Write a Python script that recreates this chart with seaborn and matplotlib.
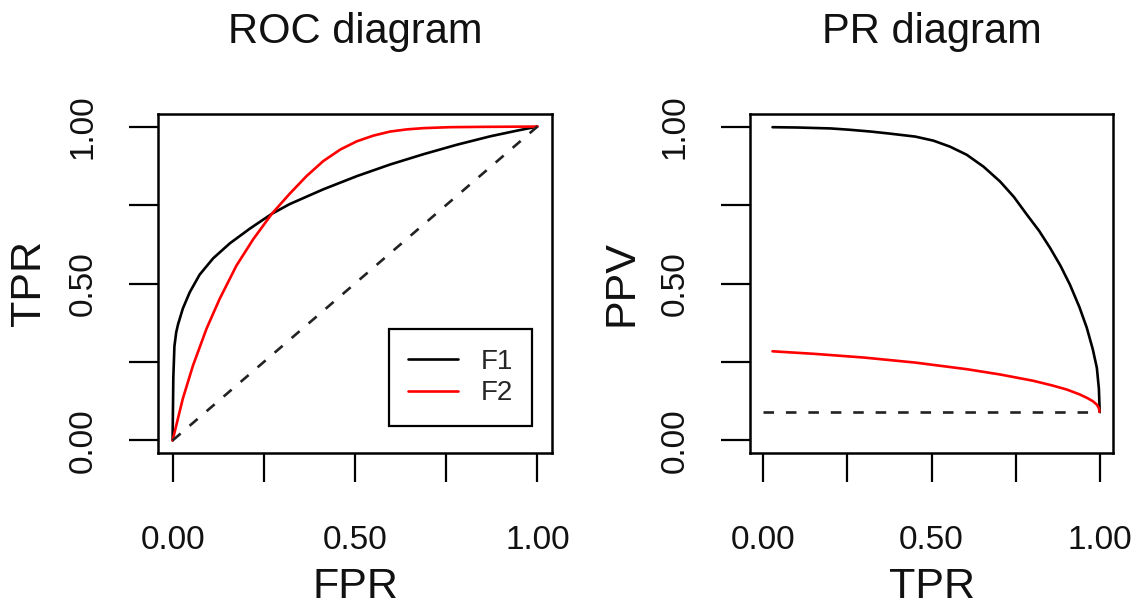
import numpy as np
import pandas as pd
import matplotlib
matplotlib.use("Agg")
import matplotlib.pyplot as plt
import seaborn as sns

# ROC curves (FPR, TPR)
f1_fpr = [0.000, 0.001, 0.002, 0.005, 0.010, 0.015, 0.028, 0.047, 0.074, 0.111,
          0.157, 0.212, 0.272, 0.321, 0.413, 0.505, 0.596, 0.688, 0.779, 0.871,
          0.940, 1.000]
f1_tpr = [0.000, 0.100, 0.200, 0.300, 0.345, 0.370, 0.420, 0.472, 0.528, 0.580,
          0.628, 0.675, 0.722, 0.753, 0.800, 0.842, 0.879, 0.912, 0.942, 0.969,
          0.986, 1.000]
f2_fpr = [0.000, 0.028, 0.056, 0.093, 0.129, 0.175, 0.221, 0.272, 0.321, 0.367,
          0.413, 0.460, 0.505, 0.550, 0.596, 0.642, 0.688, 0.760, 0.846, 1.000]
f2_tpr = [0.000, 0.133, 0.239, 0.356, 0.451, 0.557, 0.641, 0.722, 0.786, 0.842,
          0.890, 0.927, 0.953, 0.971, 0.984, 0.991, 0.995, 0.998, 0.999, 1.000]

# Precision-recall curves (TPR, PPV)
f1_rec = [0.027, 0.100, 0.200, 0.254, 0.320, 0.372, 0.452, 0.506, 0.555, 0.605,
          0.655, 0.704, 0.745, 0.784, 0.820, 0.853, 0.884, 0.912, 0.940, 0.962,
          0.980, 0.992, 0.998, 1.000, 1.000]
f1_ppv = [0.998, 0.997, 0.994, 0.990, 0.984, 0.978, 0.968, 0.955, 0.936, 0.910,
          0.872, 0.825, 0.776, 0.719, 0.668, 0.613, 0.556, 0.496, 0.425, 0.359,
          0.290, 0.231, 0.165, 0.104, 0.091]
f2_rec = [0.027, 0.150, 0.300, 0.452, 0.605, 0.705, 0.803, 0.860, 0.903, 0.940,
          0.962, 0.980, 0.992, 0.998, 1.000]
f2_ppv = [0.284, 0.276, 0.264, 0.248, 0.227, 0.210, 0.190, 0.175, 0.162, 0.147,
          0.136, 0.125, 0.114, 0.103, 0.091]

# Reference lines
chance_x = [0.0, 1.0]
chance_y = [0.0, 1.0]
baseline_ppv = 0.091

series_names = ["F1", "F2"]
series_colors = {"F1": "black", "F2": "red"}
tick_values = [0.0, 0.25, 0.5, 0.75, 1.0]
tick_labels = ["0.00", "", "0.50", "", "1.00"]

roc_df = pd.concat([
    pd.DataFrame({"FPR": f1_fpr, "TPR": f1_tpr, "model": "F1"}),
    pd.DataFrame({"FPR": f2_fpr, "TPR": f2_tpr, "model": "F2"}),
], ignore_index=True)
pr_df = pd.concat([
    pd.DataFrame({"TPR": f1_rec, "PPV": f1_ppv, "model": "F1"}),
    pd.DataFrame({"TPR": f2_rec, "PPV": f2_ppv, "model": "F2"}),
], ignore_index=True)

sns.set_style("white")
plt.rcParams["font.family"] = ["Liberation Sans", "DejaVu Sans"]

W, H = 1140, 606
fig = plt.figure(figsize=(W / 100, H / 100), dpi=100)
ax_roc = fig.add_axes([158 / W, 1 - 453 / H, 394 / W, 339 / H])
ax_pr = fig.add_axes([750 / W, 1 - 453 / H, 363 / W, 339 / H])

lw = 1.9
dash = (0, (4, 4.5))

sns.lineplot(data=roc_df, x="FPR", y="TPR", hue="model", hue_order=series_names,
             palette=series_colors, sort=False, estimator=None, linewidth=lw,
             ax=ax_roc)
sns.lineplot(x=chance_x, y=chance_y, color="#222222", linewidth=lw,
             linestyle=dash, sort=False, estimator=None, ax=ax_roc, legend=False)

sns.lineplot(data=pr_df, x="TPR", y="PPV", hue="model", hue_order=series_names,
             palette=series_colors, sort=False, estimator=None, linewidth=lw,
             ax=ax_pr, legend=False)
sns.lineplot(x=chance_x, y=[baseline_ppv, baseline_ppv], color="#222222",
             linewidth=lw, linestyle=dash, sort=False, estimator=None,
             ax=ax_pr, legend=False)

for ax, title, xl, yl in [(ax_roc, "ROC diagram", "FPR", "TPR"),
                          (ax_pr, "PR diagram", "TPR", "PPV")]:
    ax.set_xlim(-0.04, 1.04)
    ax.set_ylim(-0.04, 1.04)
    ax.set_xticks(tick_values)
    ax.set_xticklabels(tick_labels)
    ax.set_yticks(tick_values)
    ax.set_yticklabels(tick_labels, rotation=90, va="center")
    ax.tick_params(axis="both", direction="out", length=21, width=1.6,
                   color="black", labelsize=24, labelcolor="#111111",
                   bottom=True, left=True, top=False, right=False)
    ax.tick_params(axis="x", pad=31)
    ax.tick_params(axis="y", pad=22)
    for sp in ax.spines.values():
        sp.set_visible(True)
        sp.set_color("black")
        sp.set_linewidth(1.8)
    ax.set_title(title, fontsize=30, pad=51, color="#111111")
    ax.set_xlabel(xl, fontsize=31, labelpad=8, color="#111111")
    ax.set_ylabel(yl, fontsize=31, labelpad=13, color="#111111")
    ax.grid(False)

leg = ax_roc.legend(loc="lower right", bbox_to_anchor=(0.95, 0.08),
                    fontsize=20, frameon=True, fancybox=False, framealpha=1,
                    edgecolor="black", handlelength=1.8, handletextpad=0.8,
                    labelspacing=0.2, borderpad=0.7, borderaxespad=0.0)
leg.get_frame().set_linewidth(1.6)
for line in leg.get_lines():
    line.set_linewidth(lw)

fig.savefig("out.png", dpi=100, facecolor="white")
